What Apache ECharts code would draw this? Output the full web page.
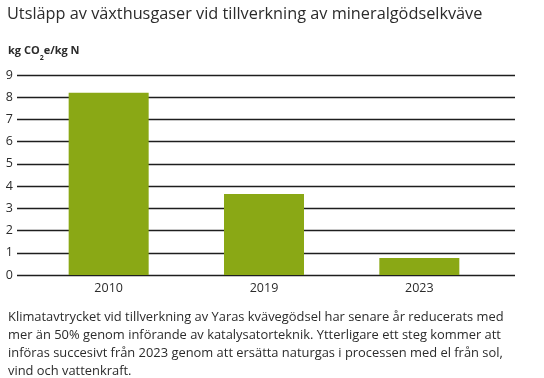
<!DOCTYPE html>
<html><head><meta charset="utf-8">
<script src="https://cdn.jsdelivr.net/npm/echarts@6/dist/echarts.min.js"></script>
<style>html,body{margin:0;padding:0;background:#fff}#c{width:544px;height:378px}</style>
</head><body><div id="c"></div>
<script>
const categories = ['2010', '2019', '2023'];
const values = [8.2, 3.65, 0.77];
const yTicks = [0, 1, 2, 3, 4, 5, 6, 7, 8, 9];
const titleText = 'Utsläpp av växthusgaser vid tillverkning av mineralgödselkväve';
const captionLines = [
  'Klimatavtrycket vid tillverkning av Yaras kvävegödsel har senare år reducerats med',
  'mer än 50% genom införande av katalysatorteknik. Ytterligare ett steg kommer att',
  'införas succesivt från 2023 genom att ersätta naturgas i processen med el från sol,',
  'vind och vattenkraft.'
];
const FONT = '"Open Sans", "Noto Sans", sans-serif';
const chart = echarts.init(document.getElementById('c'));
chart.setOption({
  animation: false,
  title: [
    { text: titleText, left: 2, top: 1,
      textStyle: { fontFamily: FONT, fontSize: 16.3, fontWeight: 500, color: '#2b2b2b' } },
    { text: '{a|kg CO}{s|2}{a|e/kg N}', left: 3, top: 38,
      textStyle: { rich: {
        a: { fontFamily: FONT, fontSize: 11, fontWeight: 'bold', color: '#2b2b2b', lineHeight: 16, verticalAlign: 'middle' },
        s: { fontFamily: FONT, fontSize: 7, fontWeight: 'bold', color: '#2b2b2b', lineHeight: 16, verticalAlign: 'bottom', padding: [0,0,-2,0] }
      } } },
    { text: captionLines.join('\n'), left: 3, top: 303,
      textStyle: { fontFamily: FONT, fontSize: 12.9, fontWeight: 'normal', color: '#2b2b2b', lineHeight: 18 } }
  ],
  grid: [
    { left: 17, right: 29, top: 75, bottom: 103 },
    { left: 31, right: 47, top: 75, bottom: 103 }
  ],
  xAxis: [
    { gridIndex: 0, type: 'value', show: false, min: 0, max: 1 },
    { gridIndex: 1, type: 'category', data: categories,
      axisLine: { show: false }, axisTick: { show: false },
      axisLabel: { margin: 7, fontFamily: FONT, fontSize: 12.5, color: '#2b2b2b' } }
  ],
  yAxis: [
    { gridIndex: 0, type: 'value', min: yTicks[0], max: yTicks[yTicks.length - 1], interval: 1,
      axisLine: { show: false }, axisTick: { show: false },
      axisLabel: { margin: 4, align: 'right', fontFamily: FONT, fontSize: 12.5, color: '#2b2b2b',
        formatter: v => yTicks.includes(v) ? String(v) : '' },
      splitLine: { lineStyle: { color: '#1e1e1e', width: 1.3 } } },
    { gridIndex: 1, type: 'value', min: 0, max: 9, show: false, splitLine: { show: false } }
  ],
  series: [{
    type: 'bar', xAxisIndex: 1, yAxisIndex: 1, data: values, barWidth: 80,
    itemStyle: { color: '#8aa815' }, z: 5
  }]
});
</script></body></html>
